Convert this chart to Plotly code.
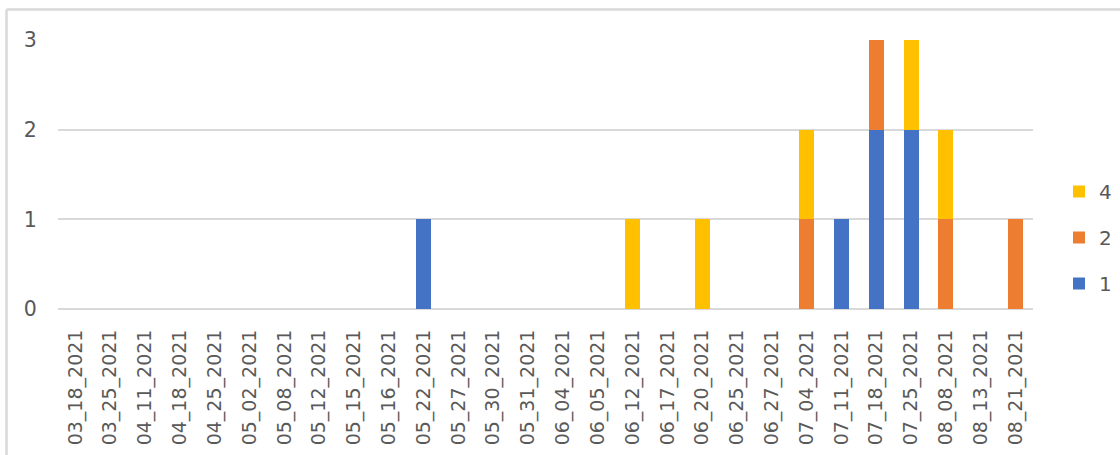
import plotly.graph_objects as go

# Sample collection dates (category axis)
dates = [
    "03_18_2021", "03_25_2021", "04_11_2021", "04_18_2021", "04_25_2021",
    "05_02_2021", "05_08_2021", "05_12_2021", "05_15_2021", "05_16_2021",
    "05_22_2021", "05_27_2021", "05_30_2021", "05_31_2021", "06_04_2021",
    "06_05_2021", "06_12_2021", "06_17_2021", "06_20_2021", "06_25_2021",
    "06_27_2021", "07_04_2021", "07_11_2021", "07_18_2021", "07_25_2021",
    "08_08_2021", "08_13_2021", "08_21_2021",
]

# Counts per series, stacked in the order 1, 2, 4
series_1 = [0, 0, 0, 0, 0, 0, 0, 0, 0, 0, 1, 0, 0, 0, 0, 0, 0, 0, 0, 0, 0, 0, 1, 2, 2, 0, 0, 0]
series_2 = [0, 0, 0, 0, 0, 0, 0, 0, 0, 0, 0, 0, 0, 0, 0, 0, 0, 0, 0, 0, 0, 1, 0, 1, 0, 1, 0, 1]
series_4 = [0, 0, 0, 0, 0, 0, 0, 0, 0, 0, 0, 0, 0, 0, 0, 0, 1, 0, 1, 0, 0, 1, 0, 0, 1, 1, 0, 0]

series_names = ["1", "2", "4"]
series_values = [series_1, series_2, series_4]
series_colors = ["#4472C4", "#ED7D31", "#FFC000"]
legend_ranks = [3, 2, 1]  # legend lists the top of the stack first

y_ticks = [0, 1, 2, 3]

font_family = "DejaVu Sans, sans-serif"
text_color = "#595959"
grid_color = "#D9D9D9"

fig = go.Figure()
for name, vals, color, rank in zip(series_names, series_values, series_colors, legend_ranks):
    fig.add_trace(go.Bar(
        x=dates, y=vals, name=name,
        marker=dict(color=color, line=dict(width=0)),
        legendgroup=name,
        legendrank=rank,
    ))

# plot-area geometry in pixels
W, H = 1120, 455
L, R, T, B = 58, 87, 40, 146
pw, ph = W - L - R, H - T - B

def px_x(px):
    return (px - L) / pw

def px_y(py):
    return (H - B - py) / ph

fig.update_layout(
    width=W, height=H,
    margin=dict(l=L, r=R, t=T, b=B, pad=0, autoexpand=False),
    barmode="stack",
    bargap=0.57,
    plot_bgcolor="white",
    paper_bgcolor="white",
    font=dict(family=font_family, color=text_color, size=20),
    showlegend=True,
    legend=dict(
        xref="container", yref="container",
        x=1059 / W, xanchor="left",
        y=1 - 172 / H, yanchor="top",
        traceorder="grouped",
        tracegroupgap=17,
        font=dict(size=20, color=text_color),
        itemwidth=30,
        bgcolor="rgba(0,0,0,0)",
    ),
    xaxis=dict(
        type="category",
        tickangle=-90,
        tickfont=dict(size=19, color=text_color),
        ticks="outside", ticklen=12, tickcolor="rgba(0,0,0,0)",
        showgrid=False, showline=False, zeroline=False,
    ),
    yaxis=dict(
        range=[0, 3],
        tickvals=y_ticks,
        tickfont=dict(size=20.5, color=text_color),
        ticks="outside", ticklen=16, tickcolor="rgba(0,0,0,0)",
        showgrid=True, gridcolor=grid_color, gridwidth=2,
        zeroline=True, zerolinecolor=grid_color, zerolinewidth=2,
        showline=False,
    ),
    shapes=[
        dict(type="line", xref="paper", yref="paper",
             x0=px_x(6.5), x1=px_x(1125), y0=px_y(9.5), y1=px_y(9.5),
             line=dict(color=grid_color, width=2.5)),
        dict(type="line", xref="paper", yref="paper",
             x0=px_x(6.5), x1=px_x(6.5), y0=px_y(9.5), y1=px_y(470),
             line=dict(color=grid_color, width=2.5)),
    ],
)

fig.write_html("out.html")
